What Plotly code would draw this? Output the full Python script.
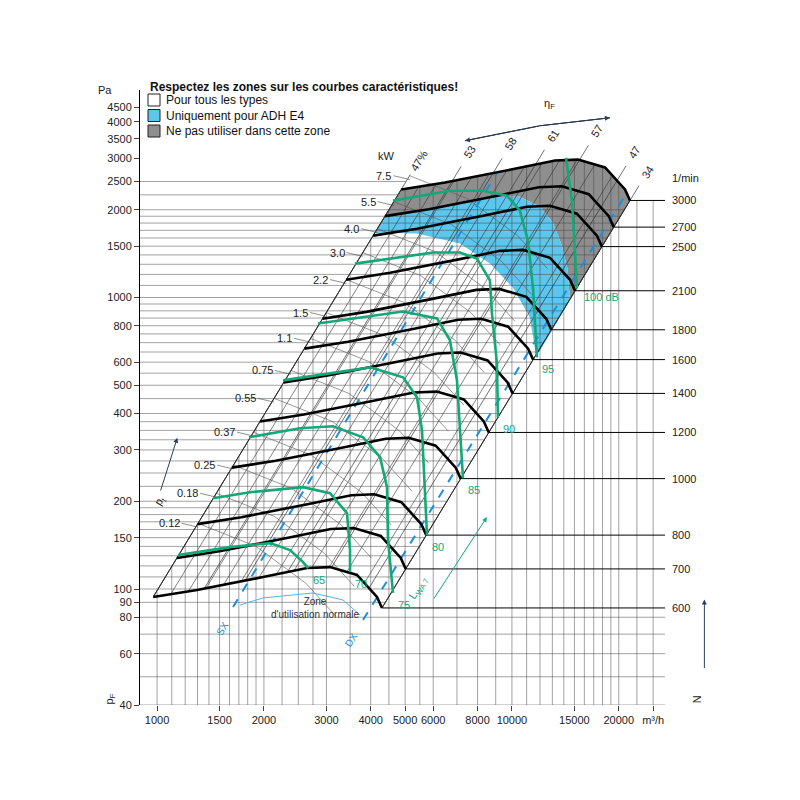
import numpy as np
import plotly.graph_objects as go

# base characteristic at 600 1/min (m3/h, Pa)
base_q = [975, 1296, 1989, 2646, 3071, 3659, 4166, 4303]
base_p = [93.9, 99.2, 109.9, 118.0, 118.9, 111.7, 93.9, 86.1]
rpm = [600, 700, 800, 1000, 1200, 1400, 1600, 1800, 2100, 2500, 2700, 3000]

# kW labels along left edge (Pa at label)
kw_labels = ["0.12", "0.18", "0.25", "0.37", "0.55", "0.75", "1.1", "1.5", "2.2", "3.0", "4.0", "5.5", "7.5"]
kw_p = [168, 213, 266, 345, 451, 562, 724, 888, 1152, 1426, 1722, 2132, 2617]

# green sound-power curves
green_db = ["65", "70", "75", "80", "85", "90", "95", "100 dB"]
green_q = [
    [1146, 1606, 2081, 2369, 2578, 2664],
    [1438, 1828, 2578, 3071, 3429, 3497, 3497],
    [1816, 2528, 3132, 3805, 4249, 4445, 4474, 4622],
    [2264, 3981, 4932, 5401, 5579, 5763],
    [2841, 4932, 6149, 6690, 7000, 7233, 7278],
    [3611, 5991, 7135, 7969, 8670, 8785, 9073, 9132],
    [4622, 6690, 8286, 9681, 10532, 11095, 11461, 11763],
    [14195, 14757, 15048, 15244],
]
green_p = [
    [130.7, 139.2, 143.7, 136.0, 123.7, 118.0],
    [204.9, 214.8, 223.6, 213.2, 182.1, 136.0, 114.3],
    [331.5, 355.9, 361.5, 331.5, 283.2, 223.6, 147.2, 96.9],
    [519.6, 575.9, 532.1, 454.5, 350.3, 153.0],
    [814.7, 895.4, 847.5, 712.3, 519.6, 270.1, 239.9],
    [1307, 1426, 1426, 1360, 1144, 881.5, 594.3, 388.2],
    [2149, 2325, 2325, 2236, 1986, 1567, 1082, 623],
    [3016, 2149, 1449, 1073],
]

# zone borders
gray_low_q = [4389, 5838, 8957, 10532, 11993, 13048, 13827, 14377, 14567]
gray_low_p = [1909, 2017, 2218, 2218, 2049, 1806, 1507, 1237, 977]
blue_low_q = [4087, 5401, 7135, 8670, 10064, 11237, 11607, 11683]
blue_low_p = [1670, 1657, 1531, 1307, 1082, 854, 669, 623]

# efficiency lines (base flow on the 600 curve)
eff_labels = ["47%", "53", "58", "61", "57", "47", "34"]
eff_q = [975, 1357, 1770, 2330, 3100, 3955, 4303]

# power arc (through the 0.25 kW point)
arc_q = [1627, 2369, 3278, 3981]
arc_p = [261.7, 218.3, 163.0, 125.7]

sx_q, sx_p = [1637, 9073], [86.8, 2680]
dx_q, dx_p = [3805, 21085], [78.3, 2289]
zone_q = [1713, 1989, 2750, 3341, 3731]
zone_p = [88.1, 93.2, 96.9, 91.7, 81.5]
lwa_q, lwa_p = [5991, 8503], [91.7, 176.5]
eta_q = [7373, 11993, 18883]
eta_p = [3450, 3882, 4135]

x_ticks = [1000, 1500, 2000, 3000, 4000, 5000, 6000, 8000, 10000, 15000, 20000, 25000]
x_text = ["1000", "1500", "2000", "3000", "4000", "5000", "6000", "8000", "10000", "15000", "20000", "m³/h"]
y_ticks = [40, 60, 80, 90, 100, 150, 200, 300, 400, 500, 600, 800, 1000, 1500, 2000, 2500, 3000, 3500, 4000, 4500]

grid_q = ([1000 + 100 * i for i in range(10)] + [2000, 2250, 2500, 2750, 3000, 3500, 4000, 4500, 5000, 5500,
          6000, 7000, 8000, 9000, 10000, 11000, 12000, 13000, 14000, 15000, 16000, 17000, 18000, 19000,
          20000, 22500, 25000])
grid_p = ([40, 50, 60, 70, 80, 90, 100, 110, 120, 130, 140, 150, 160, 170, 180, 190, 200, 225, 250, 275, 300,
           325, 350, 375, 400, 450, 500, 550, 600, 650, 700, 750, 800, 850, 900, 950, 1000, 1100, 1200, 1300,
           1400, 1500, 1600, 1700, 1800, 1900, 2000, 2250, 2500])

GREEN = "#13a878"
BLUE = "#5cc6ec"
GRAY = "#8e8e8e"
DBLUE = "#1a8fe0"
FONT = "Liberation Sans, Arial, sans-serif"

QMIN, QMAX = 895, 27000
PMIN, PMAX = 40, 5150
PLOT_W, PLOT_H = 525, 615

bq, bp = np.array(base_q, float), np.array(base_p, float)
k_left = bp[0] / bq[0] ** 2
k_right = bp[-1] / bq[-1] ** 2


def curve(n):
    s = n / rpm[0]
    return bq * s, bp * s * s


q3, p3 = curve(3000)
q27, p27 = curve(2700)
q25, p25 = curve(2500)


def top(q):
    lim = k_left * q * q
    if q3[0] <= q <= q3[-1]:
        lim = min(lim, 10 ** np.interp(np.log10(q), np.log10(q3), np.log10(p3)))
    elif q > q3[-1]:
        lim = p3[-1]
    return lim


fig = go.Figure()


def line(x, y, color="black", width=0.7, dash=None, fill=None, fillcolor=None):
    fig.add_trace(go.Scatter(x=x, y=y, mode="lines", hoverinfo="skip", showlegend=False,
                             line=dict(color=color, width=width, dash=dash),
                             fill=fill, fillcolor=fillcolor))


def note(x, y, text, size=11, color="#222", **kw):
    kw.setdefault("yanchor", "middle")
    fig.add_annotation(x=x, y=y, text=text, showarrow=False, font=dict(size=size, color=color), **kw)


# zones
gq = list(q3) + [gray_low_q[-1]] + gray_low_q[::-1] + [q27[0], q3[0]]
gp = list(p3) + [gray_low_p[-1]] + gray_low_p[::-1] + [p27[0], p3[0]]
line(gq, gp, color="rgba(0,0,0,0)", width=0, fill="toself", fillcolor=GRAY)
bq_ = [q25[0], q27[0]] + gray_low_q + blue_low_q[::-1]
bp_ = [p25[0], p27[0]] + gray_low_p + blue_low_p[::-1]
line(bq_, bp_, color="rgba(0,0,0,0)", width=0, fill="toself", fillcolor=BLUE)

# grid
gx, gy = [], []
for q in grid_q:
    gx += [q, q, None]
    gy += [PMIN, top(q), None]
for p in grid_p:
    if p < bp[-1]:
        qe = QMAX
    elif p > p3[-1]:
        qe = np.sqrt(p / k_left)
    else:
        qe = min(np.sqrt(p / k_right), QMAX)
    gx += [QMIN, qe, None]
    gy += [p, p, None]
line(gx, gy, color="#444", width=0.5)

# diagonal mesh
dxs, dys = [], []
for q0 in np.geomspace(bq[0], bq[-1], 14):
    p0 = 10 ** np.interp(np.log10(q0), np.log10(bq), np.log10(bp))
    dxs += [q0, q0 * 5, None]
    dys += [p0, p0 * 25, None]
line(dxs, dys, color="#333", width=0.6)

# labelled efficiency lines
for lab, q0 in zip(eff_labels, eff_q):
    p0 = 10 ** np.interp(np.log10(q0), np.log10(bq), np.log10(bp))
    line([q0, q0 * 5.3], [p0, p0 * 5.3 ** 2], color="#333", width=0.7)
    note(np.log10(q0 * 5.6), np.log10(p0 * 5.6 ** 2), lab, textangle=-58)

# power arcs
ax, ay = [], []
for p in kw_p:
    s = np.sqrt(p / arc_p[0])
    ax += [q * s for q in arc_q] + [None]
    ay += [v * s * s for v in arc_p] + [None]
line(ax, ay, color="#555", width=0.6)

# outline edges
line([bq[0], q3[0]], [bp[0], p3[0]], color="#222", width=0.8)
line([bq[-1], q3[-1]], [bp[-1], p3[-1]], color="#222", width=0.8)

# sx / dx
line(sx_q, sx_p, color=DBLUE, width=2, dash="dash")
line(dx_q, dx_p, color=DBLUE, width=2, dash="dash")
line(zone_q, zone_p, color="#4db8f0", width=1)

# speed curves and rpm lines
for n in rpm:
    cq, cp = curve(n)
    line(list(cq), list(cp), color="black", width=2.6)
    line([cq[-1], QMAX], [cp[-1], cp[-1]], color="black", width=1)
    note(1.01, np.log10(cp[-1]), str(n), xref="paper", xanchor="left")

# green curves
for lab, xs, ys in zip(green_db, green_q, green_p):
    line(xs, ys, color=GREEN, width=2.6)
    big = lab == "100 dB"
    note(np.log10(xs[-1]), np.log10(ys[-1]), lab, color=GREEN, xanchor="left",
         xshift=5 if big else 3, yshift=-8 if big else -12)

# lwa arrow
fig.add_annotation(x=np.log10(lwa_q[1]), y=np.log10(lwa_p[1]), ax=np.log10(lwa_q[0]), ay=np.log10(lwa_p[0]),
                   axref="x", ayref="y", showarrow=True, arrowhead=2, arrowcolor=GREEN, arrowwidth=1, text="")
note(np.log10(5450), np.log10(101), "L<sub>WA 7</sub>", color=GREEN, textangle=-58)

# eta arrow
line(eta_q, eta_p, color="black", width=1)
for i in (0, 2):
    fig.add_annotation(x=np.log10(eta_q[i]), y=np.log10(eta_p[i]), ax=np.log10(eta_q[1]), ay=np.log10(eta_p[1]),
                       axref="x", ayref="y", showarrow=True, arrowhead=2, arrowwidth=1, text="")
note(np.log10(12800), np.log10(4600), "η<sub>F</sub>")

# kW labels
for lab, p in zip(kw_labels, kw_p):
    qb = np.sqrt(p / k_left)
    line([qb * 0.9, qb], [p, p * 0.97], color="#444", width=0.6)
    note(np.log10(qb * 0.9), np.log10(p), lab, xanchor="right")
note(np.log10(np.sqrt(2617 / k_left) * 0.86), np.log10(3050), "kW")

note(np.log10(1530), np.log10(73), "SX", size=10, color=DBLUE, textangle=-58)
note(np.log10(3530), np.log10(67), "DX", size=10, color=DBLUE, textangle=-58)
note(np.log10(2800), np.log10(86), "Zone<br>d'utilisation normale", size=10, color="#333")
note(-0.05, 1.0, "Pa", xref="paper", yref="paper", xanchor="right")
note(1.01, np.log10(2560), "1/min", xref="paper", xanchor="left")
note(-0.075, np.log10(42), "p<sub>F</sub>", xref="paper", textangle=-90)
note(1.075, np.log10(42), "N", xref="paper", textangle=-90)
fig.add_annotation(x=1.075, xref="paper", y=np.log10(92), ax=0, ay=70, showarrow=True, arrowhead=2,
                   arrowwidth=1, text="")
fig.add_annotation(x=np.log10(1140), y=np.log10(330), ax=np.log10(1020), ay=np.log10(215),
                   axref="x", ayref="y", showarrow=True, arrowhead=2, arrowwidth=1, text="")
note(np.log10(1020), np.log10(200), "p<sub>t</sub>", textangle=-58)

# title and legend
note(8 / PLOT_W, (PLOT_H + 3) / PLOT_H, "<b>Respectez les zones sur les courbes caractéristiques!</b>",
     size=12, color="#111", xref="paper", yref="paper", xanchor="left")
for i, (lab, col) in enumerate([("Pour tous les types", "white"), ("Uniquement pour ADH E4", BLUE),
                                 ("Ne pas utiliser dans cette zone", GRAY)]):
    yc = (PLOT_H - (10 + 15.5 * i)) / PLOT_H
    fig.add_shape(type="rect", xref="paper", yref="paper", x0=8 / PLOT_W, x1=20 / PLOT_W, y0=yc - 6 / PLOT_H,
                  y1=yc + 6 / PLOT_H, fillcolor=col, line=dict(color="#222", width=1))
    note(24 / PLOT_W, yc, lab, size=12, color="#111", xref="paper", yref="paper", xanchor="left")

fig.update_xaxes(type="log", range=[np.log10(QMIN), np.log10(QMAX)], showgrid=False, zeroline=False,
                 tickvals=x_ticks, ticktext=x_text, ticks="outside", ticklen=5, showline=False,
                 tickfont=dict(size=11, color="#222"))
fig.update_yaxes(type="log", range=[np.log10(PMIN), np.log10(PMAX)], showgrid=False, zeroline=False,
                 tickvals=y_ticks, ticktext=[str(v) for v in y_ticks], ticks="outside", ticklen=5,
                 showline=True, linecolor="black", linewidth=1, tickfont=dict(size=11, color="#222"))
fig.update_layout(width=800, height=800, margin=dict(l=132, r=143, t=82, b=103),
                  plot_bgcolor="white", paper_bgcolor="white", font=dict(family=FONT))
fig.write_html("out.html")
